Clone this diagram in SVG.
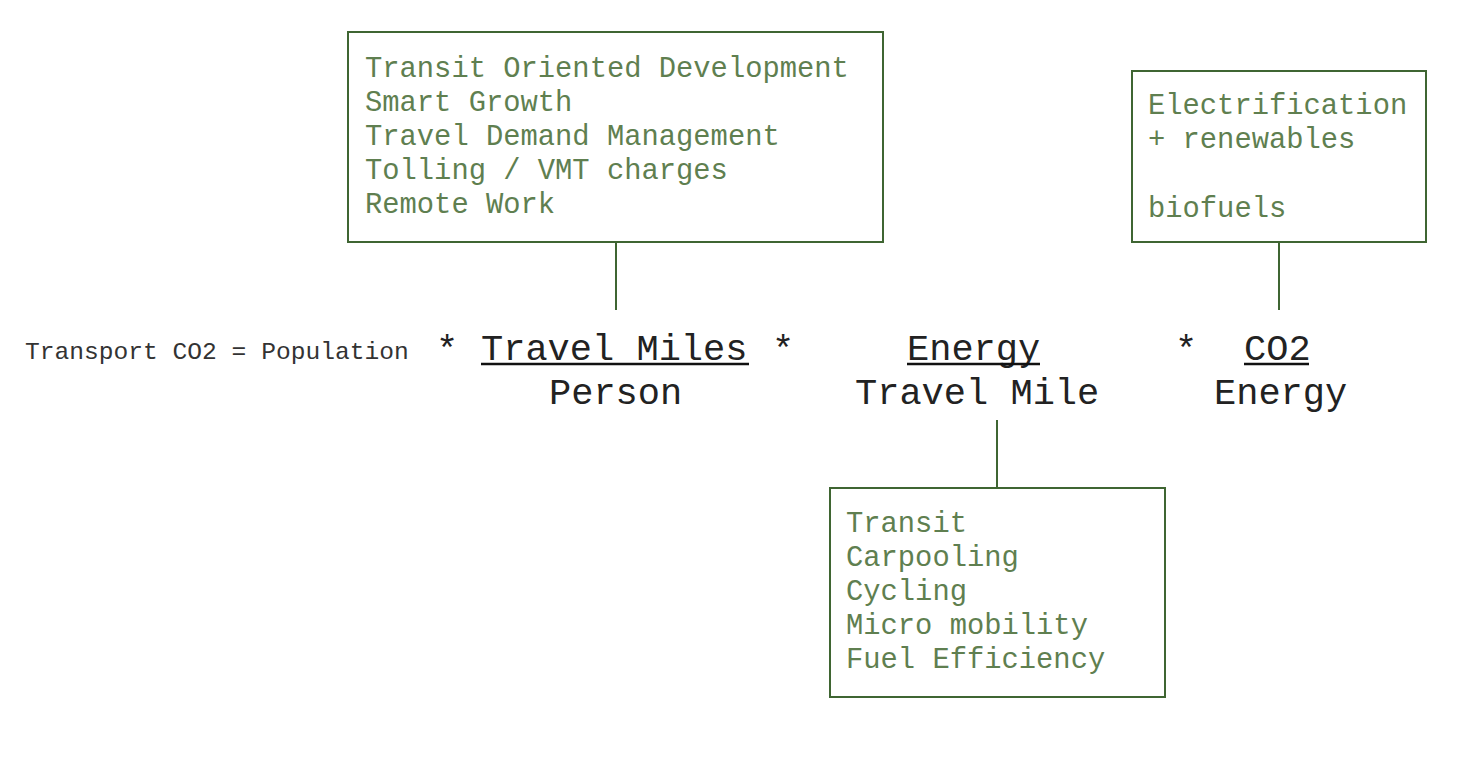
<svg xmlns="http://www.w3.org/2000/svg" width="1474" height="762" viewBox="0 0 1474 762">
<style>
.box{fill:#fff;stroke:#3f6532;stroke-width:2}
.conn{stroke:#3f6532;stroke-width:2;fill:none}
.gt{font-family:"Liberation Mono","Courier New",monospace;font-size:28.8px;fill:#5f7f50}
.eq{font-family:"Liberation Mono","Courier New",monospace;font-size:37px;fill:#222}
.sm{font-family:"Liberation Mono","Courier New",monospace;font-size:24.6px;fill:#333}
.ul{stroke:#111;stroke-width:2.5}
</style>
<rect width="1474" height="762" fill="#fff"/>
<g id="connectors">
<line class="conn" x1="616" y1="242" x2="616" y2="310"/>
<line class="conn" x1="1279" y1="242" x2="1279" y2="310"/>
<line class="conn" x1="997" y1="420" x2="997" y2="488"/>
</g>
<g id="node-travel-demand">
<rect class="box" x="348" y="32" width="535" height="210"/>
<text class="gt" x="365" y="77">Transit Oriented Development</text>
<text class="gt" x="365" y="111">Smart Growth</text>
<text class="gt" x="365" y="145">Travel Demand Management</text>
<text class="gt" x="365" y="179">Tolling / VMT charges</text>
<text class="gt" x="365" y="213">Remote Work</text>
</g>
<g id="node-fuel">
<rect class="box" x="1132" y="71" width="294" height="171"/>
<text class="gt" x="1148" y="114">Electrification</text>
<text class="gt" x="1148" y="148">+ renewables</text>
<text class="gt" x="1148" y="217">biofuels</text>
</g>
<g id="node-mode">
<rect class="box" x="830" y="488" width="335" height="209"/>
<text class="gt" x="846" y="532">Transit</text>
<text class="gt" x="846" y="566">Carpooling</text>
<text class="gt" x="846" y="600">Cycling</text>
<text class="gt" x="846" y="634">Micro mobility</text>
<text class="gt" x="846" y="668">Fuel Efficiency</text>
</g>
<g id="equation">
<text class="sm" x="25" y="359">Transport CO2 = Population</text>
<text class="eq" x="436" y="361">*</text>
<text class="eq" x="481" y="360">Travel Miles</text>
<line class="ul" x1="481" y1="364" x2="749" y2="364"/>
<text class="eq" x="772" y="361">*</text>
<text class="eq" x="549" y="404">Person</text>
<text class="eq" x="907" y="360">Energy</text>
<line class="ul" x1="907" y1="364" x2="1040" y2="364"/>
<text class="eq" x="855" y="404">Travel Mile</text>
<text class="eq" x="1175" y="361">*</text>
<text class="eq" x="1244" y="360">CO2</text>
<line class="ul" x1="1244" y1="364" x2="1309" y2="364"/>
<text class="eq" x="1214" y="404">Energy</text>
</g>
</svg>
